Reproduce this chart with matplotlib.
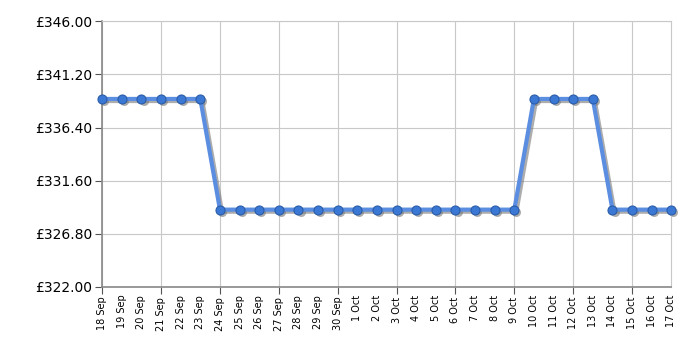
import matplotlib
matplotlib.use("Agg")
import matplotlib.pyplot as plt
import matplotlib.transforms as mtransforms
import numpy as np

dates = ["18 Sep", "19 Sep", "20 Sep", "21 Sep", "22 Sep", "23 Sep", "24 Sep", "25 Sep",
         "26 Sep", "27 Sep", "28 Sep", "29 Sep", "30 Sep", "1 Oct", "2 Oct", "3 Oct",
         "4 Oct", "5 Oct", "6 Oct", "7 Oct", "8 Oct", "9 Oct", "10 Oct", "11 Oct",
         "12 Oct", "13 Oct", "14 Oct", "15 Oct", "16 Oct", "17 Oct"]
prices = [338.99] * 6 + [328.99] * 16 + [338.99] * 4 + [328.99] * 4
yticks = [322.00, 326.80, 331.60, 336.40, 341.20, 346.00]

fig = plt.figure(figsize=(7, 3.5), dpi=100)
ax = fig.add_axes([0.146, 0.18, 0.813, 0.759])

x = np.arange(len(dates))
# grey drop shadow under the line
shadow_tr = mtransforms.offset_copy(ax.transData, fig=fig, x=1.5, y=-1.5, units="points")
ax.plot(x, prices, color="#777777", lw=3, alpha=0.6, marker="o", ms=6.5,
        markeredgewidth=0, transform=shadow_tr, zorder=2, clip_on=False)
ax.plot(x, prices, color="#5b8ee0", lw=3, marker="o", ms=6.5,
        markerfacecolor="#3a78d4", markeredgecolor="#2a5ca8", markeredgewidth=0.8,
        zorder=3, clip_on=False)

ax.set_xlim(0, len(dates) - 1)
ax.set_ylim(322, 346)
ax.set_yticks(yticks)
ax.set_yticklabels(["£%.2f" % v for v in yticks], fontsize=10)

major = x[::3]
minor = [i for i in x if i % 3 != 0]
ax.set_xticks(major)
ax.set_xticklabels([dates[i] for i in major], rotation=90, fontsize=7)
ax.set_xticks(minor, minor=True)
ax.set_xticklabels([dates[i] for i in minor], minor=True, rotation=90, fontsize=7)
ax.tick_params(axis="x", which="minor", length=0, pad=5.5)
ax.tick_params(axis="x", which="major", length=5, color="#555555", pad=2)
ax.tick_params(axis="y", length=5, color="#555555", pad=2)

ax.grid(True, which="major", color="#c8c8c8", lw=0.8)
ax.set_axisbelow(True)
for s in ["top", "right"]:
    ax.spines[s].set_color("#c8c8c8")
for s in ["left", "bottom"]:
    ax.spines[s].set_color("#888888")
    ax.spines[s].set_linewidth(1.2)

fig.savefig("out.png", dpi=100)
